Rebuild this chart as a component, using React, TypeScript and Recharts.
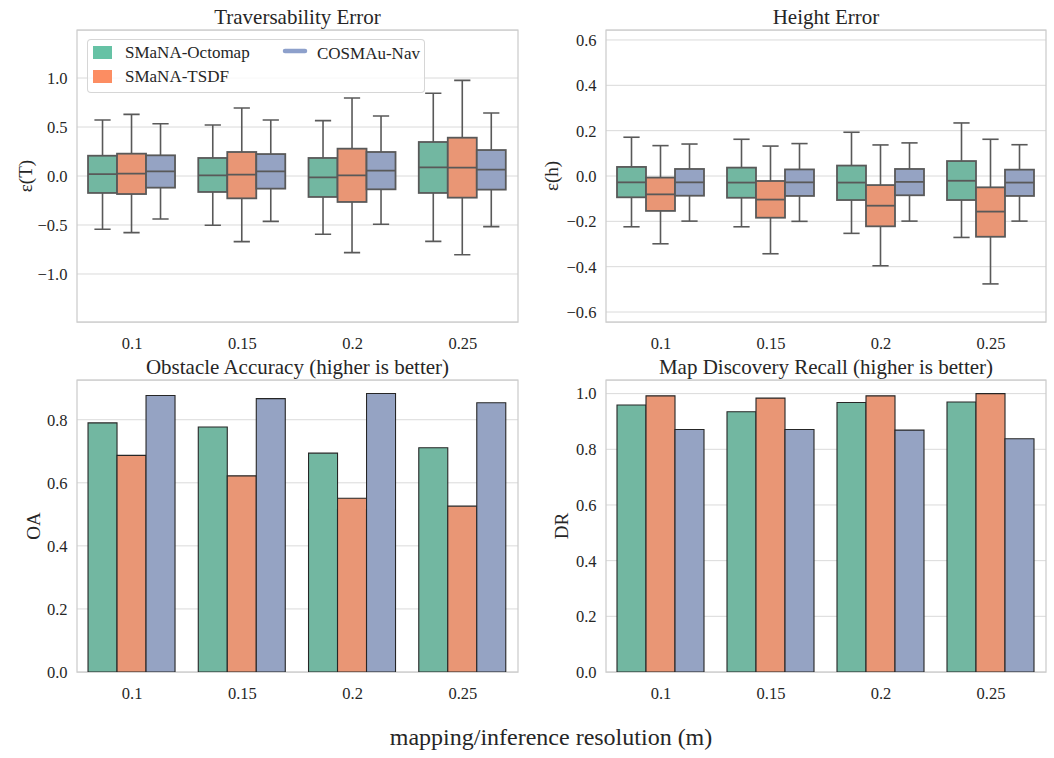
import React from 'react';
import { ComposedChart, Bar, XAxis, YAxis, CartesianGrid, ReferenceArea, Legend } from 'recharts';

const categories = ['0.1', '0.15', '0.2', '0.25'];
const seriesNames = ['SMaNA-Octomap', 'SMaNA-TSDF', 'COSMAu-Nav'];

// box stats per resolution: [lower whisker, q1, median, q3, upper whisker]
const travOctomap = [
  [-0.544, -0.173, 0.02, 0.207, 0.571],
  [-0.503, -0.163, 0.007, 0.184, 0.52],
  [-0.595, -0.214, -0.014, 0.184, 0.565],
  [-0.667, -0.173, 0.088, 0.347, 0.844],
];
const travTsdf = [
  [-0.578, -0.184, 0.024, 0.228, 0.629],
  [-0.67, -0.228, 0.014, 0.245, 0.694],
  [-0.782, -0.265, 0.007, 0.279, 0.796],
  [-0.803, -0.221, 0.085, 0.391, 0.976],
];
const travCosmau = [
  [-0.439, -0.119, 0.048, 0.211, 0.534],
  [-0.463, -0.129, 0.048, 0.224, 0.571],
  [-0.493, -0.136, 0.054, 0.245, 0.612],
  [-0.517, -0.139, 0.065, 0.265, 0.643],
];

const heightOctomap = [
  [-0.224, -0.094, -0.028, 0.04, 0.171],
  [-0.224, -0.096, -0.029, 0.037, 0.162],
  [-0.253, -0.106, -0.029, 0.046, 0.193],
  [-0.271, -0.106, -0.021, 0.066, 0.234],
];
const heightTsdf = [
  [-0.299, -0.154, -0.081, -0.007, 0.134],
  [-0.343, -0.184, -0.104, -0.022, 0.132],
  [-0.396, -0.222, -0.131, -0.04, 0.137],
  [-0.476, -0.268, -0.157, -0.05, 0.162],
];
const heightCosmau = [
  [-0.199, -0.087, -0.028, 0.031, 0.141],
  [-0.2, -0.088, -0.028, 0.029, 0.143],
  [-0.199, -0.085, -0.026, 0.031, 0.146],
  [-0.199, -0.088, -0.029, 0.028, 0.138],
];

const oaOctomap = [0.79, 0.777, 0.694, 0.711];
const oaTsdf = [0.687, 0.622, 0.551, 0.526];
const oaCosmau = [0.877, 0.867, 0.883, 0.854];

const drOctomap = [0.959, 0.935, 0.968, 0.97];
const drTsdf = [0.992, 0.984, 0.992, 1.0];
const drCosmau = [0.871, 0.871, 0.869, 0.838];

const travTicks = [-1, -0.5, 0, 0.5, 1];
const heightTicks = [-0.6, -0.4, -0.2, 0, 0.2, 0.4, 0.6];
const oaTicks = [0, 0.2, 0.4, 0.6, 0.8];
const drTicks = [0, 0.2, 0.4, 0.6, 0.8, 1.0];

const FONT = '"Liberation Serif", "Times New Roman", serif';
const TEXT = '#262626';
const keys = ['oct', 'tsdf', 'cos'];
const fills = ['#72b7a1', '#e99675', '#95a3c3'];
const legendColors = ['#66c2a5', '#fc8d62', '#8da0cb'];
const BOX_LINE = '#595959';

const travRows = categories.map((cat, i) => ({ cat, oct: travOctomap[i], tsdf: travTsdf[i], cos: travCosmau[i] }));
const heightRows = categories.map((cat, i) => ({ cat, oct: heightOctomap[i], tsdf: heightTsdf[i], cos: heightCosmau[i] }));
const oaRows = categories.map((cat, i) => ({ cat, oct: oaOctomap[i], tsdf: oaTsdf[i], cos: oaCosmau[i] }));
const drRows = categories.map((cat, i) => ({ cat, oct: drOctomap[i], tsdf: drTsdf[i], cos: drCosmau[i] }));

const fmt = (v: number) => v.toFixed(1).replace('-', '\u2212');

function BoxShape(props: any) {
  const { x, y, width, height, payload, fill, k } = props;
  const s: number[] = payload[k];
  const top = Math.min(y, y + height);
  const h = Math.abs(height);
  const ppu = h / (s[3] - s[1]);
  const py = (v: number) => top + (s[3] - v) * ppu;
  const cx = x + width / 2;
  const cap = width * 0.28;
  const ln = { stroke: BOX_LINE, strokeWidth: 1.6 };
  return (
    <g>
      <line x1={cx} x2={cx} y1={py(s[4])} y2={top} {...ln} />
      <line x1={cx} x2={cx} y1={top + h} y2={py(s[0])} {...ln} />
      <line x1={cx - cap} x2={cx + cap} y1={py(s[4])} y2={py(s[4])} {...ln} />
      <line x1={cx - cap} x2={cx + cap} y1={py(s[0])} y2={py(s[0])} {...ln} />
      <rect x={x} y={top} width={width} height={h} fill={fill} stroke={BOX_LINE} strokeWidth={1.8} />
      <line x1={x} x2={x + width} y1={py(s[2])} y2={py(s[2])} stroke={BOX_LINE} strokeWidth={1.8} />
    </g>
  );
}

function AxisTick(props: any) {
  const { x, y, payload, textAnchor, horizontal } = props;
  const label = horizontal ? payload.value : fmt(payload.value);
  return (
    <text
      x={x}
      y={y}
      dy={horizontal ? '0.71em' : '0.355em'}
      textAnchor={textAnchor}
      fontSize={16.5}
      fontFamily={FONT}
      fill={TEXT}
    >
      {label}
    </text>
  );
}

function LegendBox() {
  return (
    <div
      style={{
        width: 338,
        height: 54,
        boxSizing: 'border-box',
        border: '1px solid rgba(204,204,204,0.8)',
        borderRadius: 4,
        background: 'rgba(255,255,255,0.8)',
        position: 'relative',
      }}
    >
      <svg width={338} height={54} style={{ position: 'absolute', left: -1, top: -1 }}>
        <rect x={6} y={7} width={19} height={13} fill={legendColors[0]} />
        <text x={38} y={19} fontSize={17} fontFamily={FONT} fill={TEXT}>{seriesNames[0]}</text>
        <rect x={6} y={31} width={19} height={13} fill={legendColors[1]} />
        <text x={38} y={43} fontSize={17} fontFamily={FONT} fill={TEXT}>{seriesNames[1]}</text>
        <line x1={198} x2={218} y1={12} y2={12} stroke={legendColors[2]} strokeWidth={4.5} strokeLinecap="round" />
        <text x={230} y={20} fontSize={17} fontFamily={FONT} fill={TEXT}>{seriesNames[2]}</text>
      </svg>
    </div>
  );
}

const yLabel = (text: string, cx: number) => (props: any) => {
  const vb = props.viewBox;
  const x = vb.x + cx;
  const y = vb.y + vb.height / 2;
  return (
    <text x={x} y={y} dy="0.35em" transform={`rotate(-90 ${x} ${y})`} textAnchor="middle" fontSize={19} fontFamily={FONT} fill={TEXT}>
      {text}
    </text>
  );
};

interface PanelProps {
  left: number;
  top: number;
  width: number;
  rightMargin: number;
  axisWidth: number;
  data: any[];
  domain: [number, number];
  ticks: number[];
  label: string;
  labelX: number;
  box: boolean;
  legend?: boolean;
}

function Panel(p: PanelProps) {
  return (
    <div style={{ position: 'absolute', left: p.left, top: p.top, fontFamily: FONT }}>
      <ComposedChart
        width={p.width}
        height={362}
        data={p.data}
        margin={{ top: 30, right: p.rightMargin, bottom: 12, left: 0 }}
        barCategoryGap="10%"
        barGap={0}
        style={{ fontFamily: FONT }}
      >
        <CartesianGrid vertical={false} stroke="#dadada" strokeWidth={1} />
        <XAxis
          dataKey="cat"
          height={28}
          interval={0}
          tickLine={false}
          axisLine={false}
          tickSize={0}
          tickMargin={15}
          tick={(tp: any) => <AxisTick {...tp} horizontal />}
        />
        <YAxis
          type="number"
          width={p.axisWidth}
          domain={p.domain}
          ticks={p.ticks}
          allowDataOverflow
          tickLine={false}
          axisLine={false}
          tickSize={0}
          tickMargin={9.5}
          tick={(tp: any) => <AxisTick {...tp} />}
          label={{ content: yLabel(p.label, p.labelX) }}
        />
        <ReferenceArea y1={p.domain[0]} y2={p.domain[1]} fill="none" stroke="#cccccc" strokeWidth={1.25} ifOverflow="visible" />
        {keys.map((k, i) =>
          p.box ? (
            <Bar
              key={k}
              name={seriesNames[i]}
              dataKey={(d: any) => [d[k][1], d[k][3]]}
              fill={fills[i]}
              shape={(sp: any) => <BoxShape {...sp} k={k} />}
              isAnimationActive={false}
            />
          ) : (
            <Bar key={k} name={seriesNames[i]} dataKey={k} fill={fills[i]} stroke="#262626" strokeWidth={1.1} isAnimationActive={false} />
          )
        )}
        {p.legend && (
          <Legend
            layout="horizontal"
            align="center"
            verticalAlign="middle"
            wrapperStyle={{ left: 87, top: 39, width: 338, height: 54 }}
            content={() => <LegendBox />}
          />
        )}
      </ComposedChart>
    </div>
  );
}

export default function App() {
  const title = { fontSize: 21, fontFamily: FONT, fill: TEXT, textAnchor: 'middle' as const };
  return (
    <div style={{ position: 'absolute', left: 0, top: 0, width: 1054, height: 758, background: '#fff', fontFamily: FONT }}>
      <Panel left={0} top={0} width={530} rightMargin={12} axisWidth={77} data={travRows} domain={[-1.49, 1.49]} ticks={travTicks} label="ε(T)" labelX={25} box legend />
      <Panel left={530} top={0} width={524} rightMargin={8} axisWidth={76} data={heightRows} domain={[-0.644, 0.644]} ticks={heightTicks} label="ε(h)" labelX={21} box />
      <Panel left={0} top={350} width={530} rightMargin={12} axisWidth={77} data={oaRows} domain={[0, 0.926]} ticks={oaTicks} label="OA" labelX={33} box={false} />
      <Panel left={530} top={350} width={524} rightMargin={8} axisWidth={76} data={drRows} domain={[0, 1.049]} ticks={drTicks} label="DR" labelX={31} box={false} />
      <svg width={1054} height={758} style={{ position: 'absolute', left: 0, top: 0, pointerEvents: 'none' }}>
        <text x={297.5} y={24} {...title}>Traversability Error</text>
        <text x={826} y={24} {...title}>Height Error</text>
        <text x={297.5} y={374} {...title}>Obstacle Accuracy (higher is better)</text>
        <text x={826} y={374} {...title}>Map Discovery Recall (higher is better)</text>
        <text x={551} y={745} fontSize={24} fontFamily={FONT} fill={TEXT} textAnchor="middle">mapping/inference resolution (m)</text>
      </svg>
    </div>
  );
}
